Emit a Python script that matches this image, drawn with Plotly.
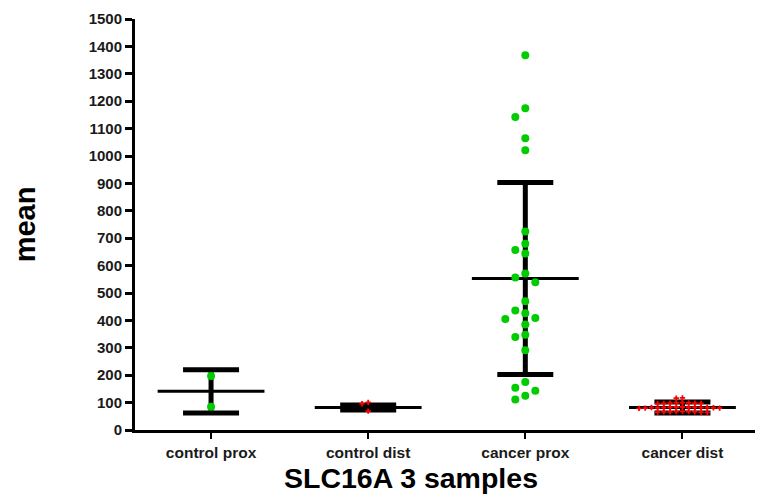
import plotly.graph_objects as go

categories = ["control prox", "control dist", "cancer prox", "cancer dist"]

control_prox = [197, 85]
control_dist = [101, 96, 69]
cancer_prox = [1368, 1174, 1142, 1065, 1021, 724, 680, 657, 644, 571, 557, 539,
               470, 436, 426, 409, 405, 385, 348, 339, 291, 175, 154, 143, 125, 111]
cancer_dist = [117, 116,
               100, 99, 98, 98, 97, 96, 99, 97,
               84, 83, 82, 82, 81, 80, 83, 81, 82, 80, 79, 84, 82, 83,
               68, 67, 66, 66, 65, 64, 66, 67, 65]

means = [141, 82, 553, 82]
sds = [79, 9, 350, 20]

groups = [control_prox, control_dist, cancer_prox, cancer_dist]
colors = ["#00CC00", "#FF0000", "#00CC00", "#FF0000"]

# the page body adds an 8px margin, so the figure is sized to fit the window
W, H = 755, 490
ML, MR, MT, MB = 127, 2, 9, 68
XR = [-0.484, 3.5]
YR = [0, 1500]
px_per_x = (W - ML - MR) / (XR[1] - XR[0])
px_per_y = (H - MT - MB) / (YR[1] - YR[0])


def beeswarm(vals, dx_min, dy_min, step, round_check):
    placed = []
    offs = [0.0] * len(vals)
    order = sorted(range(len(vals)), key=lambda i: -vals[i])
    cands = [0]
    for k in range(1, 40):
        cands += [-k, k]
    for i in order:
        yp = vals[i] * px_per_y
        for c in cands:
            xp = c * step
            if round_check:
                ok = all((xp - a) ** 2 + (yp - b) ** 2 >= 0.9 * dx_min ** 2
                         for a, b in placed)
            else:
                ok = all(not (abs(xp - a) < dx_min and abs(yp - b) < dy_min)
                         for a, b in placed)
            if ok:
                placed.append((xp, yp))
                offs[i] = xp / px_per_x
                break
    return offs


fig = go.Figure()

# mean lines
half = 0.34
for i, m in enumerate(means):
    fig.add_trace(go.Scatter(x=[i - half, i + half], y=[m, m], mode="lines",
                             line=dict(color="black", width=3),
                             hoverinfo="skip", showlegend=False))

# SD error bars
fig.add_trace(go.Scatter(x=list(range(len(categories))), y=means, mode="markers",
                         marker=dict(size=1, color="rgba(0,0,0,0)"),
                         error_y=dict(type="data", array=sds, symmetric=True,
                                      color="black", thickness=5, width=28),
                         showlegend=False, hoverinfo="skip"))

# points
for i, (vals, col) in enumerate(zip(groups, colors)):
    if col == "#00CC00":
        offs = beeswarm(vals, 10, 10, 10, True)
        marker = dict(color=col, size=8, symbol="circle")
    else:
        offs = beeswarm(vals, 6, 4, 6.2, False)
        marker = dict(color=col, size=4.5, symbol="cross")
    fig.add_trace(go.Scatter(x=[i + o for o in offs], y=vals, mode="markers",
                             marker=marker, showlegend=False,
                             name=categories[i]))

FONT = "Liberation Sans"
fig.update_layout(
    width=W, height=H,
    margin=dict(l=ML, r=MR, t=MT, b=MB),
    plot_bgcolor="white", paper_bgcolor="white",
    font=dict(family=FONT, color="black"),
    xaxis=dict(range=XR, tickmode="array", tickvals=list(range(len(categories))),
               ticktext=categories, showline=True, linecolor="black", linewidth=3,
               ticks="outside", ticklen=6, tickwidth=2, tickcolor="black",
               showgrid=False, zeroline=False,
               tickfont=dict(family=FONT, size=15.5, color="#1a1a1a", weight="bold")),
    yaxis=dict(range=YR, tickmode="array", tickvals=list(range(0, 1501, 100)),
               showline=True, linecolor="black", linewidth=3,
               ticks="outside", ticklen=7, tickwidth=2.5, tickcolor="black",
               showgrid=False, zeroline=False,
               tickfont=dict(family=FONT, size=15, color="#1a1a1a", weight="bold")),
    annotations=[
        dict(text="<b>SLC16A 3 samples</b>", xref="paper", yref="paper",
             x=0.441, y=-0.118, xanchor="center", yanchor="middle", showarrow=False,
             font=dict(family=FONT, size=28.5, color="black")),
        dict(text="<b>mean</b>", xref="paper", yref="paper",
             x=-0.176, y=0.5, xanchor="center", yanchor="middle", showarrow=False,
             textangle=-90,
             font=dict(family=FONT, size=29, color="black")),
    ],
)

fig.write_html("out.html")
